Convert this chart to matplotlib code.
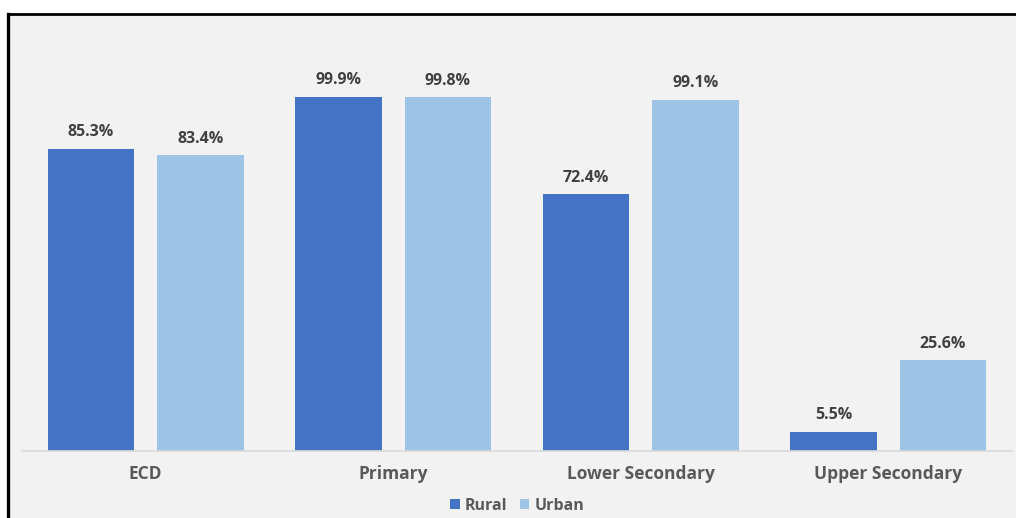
import matplotlib

matplotlib.use("Agg")
import matplotlib.pyplot as plt
from matplotlib.patches import Rectangle
import numpy as np

levels = ["ECD", "Primary", "Lower Secondary", "Upper Secondary"]
rural = [85.3, 99.9, 72.4, 5.5]
urban = [83.4, 99.8, 99.1, 25.6]

RURAL_COLOR = "#4472c4"
URBAN_COLOR = "#9dc3e6"
PANEL_COLOR = "#f2f2f2"
TEXT_COLOR = "#595959"
LABEL_COLOR = "#404040"

plt.rcParams["font.family"] = ["Open Sans", "DejaVu Sans"]

fig = plt.figure(figsize=(10.16, 5.18), dpi=100)
fig.patch.set_facecolor("white")

# grey panel with a dark frame on top and left
W, H = 1016, 518
fig.patches.append(Rectangle((9 / W, 0), 1 - 9 / W, 1 - 15 / H, transform=fig.transFigure,
                             facecolor=PANEL_COLOR, edgecolor="none", zorder=-2))
fig.add_artist(plt.Line2D([8 / W, 1], [1 - 14 / H, 1 - 14 / H], transform=fig.transFigure,
                          color="black", linewidth=2, zorder=-1))
fig.add_artist(plt.Line2D([8 / W, 8 / W], [0, 1 - 14 / H], transform=fig.transFigure,
                          color="black", linewidth=2.4, zorder=-1))

ax = fig.add_axes([22 / W, 67 / H, (1012 - 22) / W, (451 - 61) / H])
ax.set_facecolor("none")
ax.set_zorder(1)

x = np.arange(len(levels))
width = 0.348
offset = 0.221
bars_r = ax.bar(x - offset, rural, width, color=RURAL_COLOR, label="Rural", zorder=2)
bars_u = ax.bar(x + offset, urban, width, color=URBAN_COLOR, label="Urban", zorder=2)

for bars, values in ((bars_r, rural), (bars_u, urban)):
    for bar, value in zip(bars, values):
        ax.annotate(f"{value}%", (bar.get_x() + bar.get_width() / 2, value),
                    xytext=(0, 6), textcoords="offset points", ha="center", va="bottom",
                    fontsize=11.5, fontweight="bold", color=LABEL_COLOR)

ax.set_xlim(-0.5, len(levels) - 0.5)
ax.set_ylim(0, 110)
ax.set_xticks(x)
ax.set_xticklabels(levels, fontsize=12.5, fontweight="bold", color=TEXT_COLOR)
ax.tick_params(axis="x", length=0, pad=10)
ax.set_yticks([])
for side in ("top", "right", "left"):
    ax.spines[side].set_visible(False)
ax.spines["bottom"].set_color("#d9d9d9")
ax.spines["bottom"].set_linewidth(1.2)

leg = fig.legend(handles=[bars_r, bars_u], loc="center", bbox_to_anchor=(517 / W, 1 - 506 / H),
                 ncol=2, frameon=False, handlelength=0.6, handleheight=0.6,
                 handletextpad=0.3, columnspacing=0.8,
                 prop={"weight": "bold", "size": 11.5})
for text in leg.get_texts():
    text.set_color(TEXT_COLOR)

fig.savefig("out.png", dpi=100, facecolor=fig.get_facecolor())
